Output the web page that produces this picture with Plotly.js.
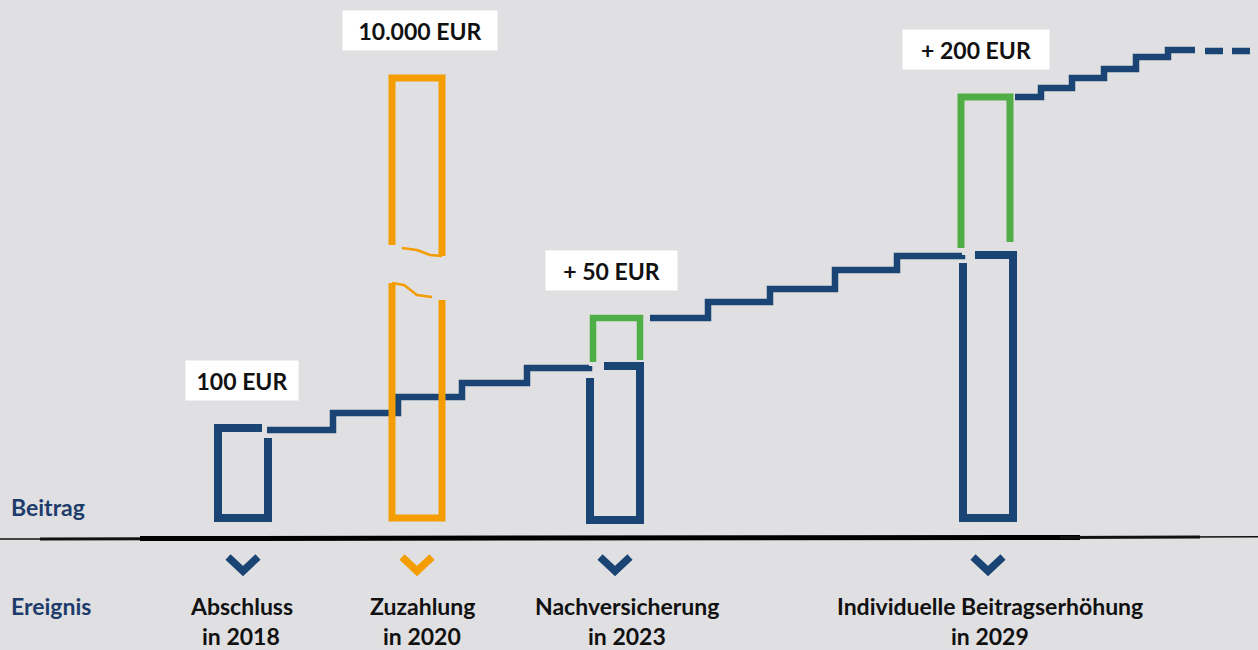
<!DOCTYPE html>
<html><head><meta charset="utf-8">
<script src="https://cdn.plot.ly/plotly-3.0.1.min.js"></script>
<style>html,body{margin:0;padding:0;background:#e0e0e2}#chart{width:1258px;height:650px}</style>
</head><body><div id="chart"></div>
<script>
// ---------- data ----------
const events = ['Abschluss', 'Zuzahlung', 'Nachversicherung', 'Individuelle Beitragserhöhung'];
const years = ['in 2018', 'in 2020', 'in 2023', 'in 2029'];
const eventX = [243, 417, 615, 988];          // schematic time position of each event
const barTop = [90, 440, 152, 263];            // contribution level at the event (blue / orange)
const boostTop = [null, null, 200, 421];       // level after the increase (green)
const amountLabels = ['100 EUR', '10.000 EUR', '+ 50 EUR', '+ 200 EUR'];
const zuzahlungBreak = [221, 262];             // axis break of the tall single payment bar

// contribution staircase between events (x position, level)
const stairs1X = [267, 333, 398, 462, 527, 589];
const stairs1Y = [88, 105, 121, 135, 150, 152];
const stairs2X = [650, 708, 770, 835, 897, 962];
const stairs2Y = [200, 216, 229, 248, 262, 263];
const stairs3X = [1015, 1041, 1072, 1104, 1136, 1168, 1195];
const stairs3Y = [421, 430, 440, 449, 461, 468, 468];
const dashX = [1205, 1223, null, 1232, 1250];
const dashY = [467, 467, null, 467, 467];

// ---------- style ----------
const NAVY = '#1a4473', ORANGE = '#f49d00', GREEN = '#50ae46', BG = '#e0e0e2';
const eventColor = [NAVY, ORANGE, NAVY, NAVY];
const HW = 25;                  // half bar width (px = data units)
const labelW = [110, 152, 129, 144];
const labelShift = [-1, 3, -4, -12];
const eventShift = [-2, 5, 12, 2];
const FONT = 'Lato, "Open Sans", sans-serif';

const traces = [];
function line(x, y, color, width, shape) {
  traces.push({type: 'scatter', mode: 'lines', x: x, y: y, hoverinfo: 'skip',
    line: {color: color, width: width, shape: shape || 'linear'}});
}

// baseline (tapered hand drawn stroke)
line([0, 60], [-21, -21], '#111', 1.5);
line([40, 160], [-21, -20.8], '#111', 3);
line([140, 1080], [-20.5, -19.5], '#000', 5);
line([1060, 1200], [-19.5, -19], '#111', 3);
line([1180, 1258], [-19, -18.8], '#111', 1.5);

// staircases
line(stairs1X, stairs1Y, NAVY, 6.5, 'hv');
line(stairs2X, stairs2Y, NAVY, 6.5, 'hv');
line(stairs3X, stairs3Y, NAVY, 6.5, 'hv');
line(dashX, dashY, NAVY, 6.5);

// bar 1: Abschluss
(function () {
  const L = eventX[0] - HW, R = eventX[0] + HW, T = barTop[0];
  line([R, R, L, L, R - 6], [T - 10, 0, 0, T, T], NAVY, 8);
})();

// bar 2: Zuzahlung (with break)
(function () {
  const L = eventX[1] - HW, R = eventX[1] + HW, T = barTop[1];
  const lo = zuzahlungBreak[0], hi = zuzahlungBreak[1];
  line([L, L, R, R], [hi + 11, T, T, hi], ORANGE, 7);
  line([R, R - 12, R - 25, L + 10], [hi, hi + 1, hi + 6, hi + 8], ORANGE, 2.5);
  line([L, L, R, R], [lo + 14, 0, 0, lo - 3], ORANGE, 7);
  line([L, L + 12, L + 25, R - 10], [lo + 14, lo + 12, lo + 2, lo], ORANGE, 2.5);
})();

// bar 3: Nachversicherung
(function () {
  const L = eventX[2] - HW, R = eventX[2] + HW, T = barTop[2], G = boostTop[2];
  line([L, L, R, R, L + 14], [T - 12, -2, -2, T, T], NAVY, 8);
  line([L + 3, L + 3, R, R], [T + 4, G, G, T + 6], GREEN, 6.5);
})();

// bar 4: Individuelle Beitragserhöhung
(function () {
  const L = eventX[3] - HW, R = eventX[3] + HW, T = barTop[3], G = boostTop[3];
  line([L, L, R, R, L + 12], [T - 8, 0, 0, T, T], NAVY, 8);
  line([L - 2, L - 2, R - 3, R - 3], [T + 7, G, G, T + 13], GREEN, 7);
})();

// chevrons
eventX.forEach((cx, i) => line([cx - 15, cx, cx + 15], [-39, -53, -39], eventColor[i], 7.5));

// ---------- annotations ----------
const ann = [];
ann.push({x: 9, y: 11, xanchor: 'left', yanchor: 'middle', text: '<b>Beitrag</b>', showarrow: false,
  font: {family: FONT, size: 23, color: '#1d3c6c'}});
ann.push({x: 9, y: -88, xanchor: 'left', yanchor: 'middle', text: '<b>Ereignis</b>', showarrow: false,
  font: {family: FONT, size: 23, color: '#1d3c6c'}});
events.forEach((e, i) => {
  ann.push({x: eventX[i], xshift: eventShift[i], y: -88, yanchor: 'middle', text: '<b>' + e + '</b>', showarrow: false,
    font: {family: FONT, size: 23, color: '#111'}});
  ann.push({x: eventX[i], xshift: eventShift[i], y: -118, yanchor: 'middle', text: '<b>' + years[i] + '</b>', showarrow: false,
    font: {family: FONT, size: 23, color: '#111'}});
});
amountLabels.forEach((t, i) => {
  const top = boostTop[i] !== null ? boostTop[i] : barTop[i];
  ann.push({x: eventX[i], xshift: labelShift[i], y: top, yshift: 48, yanchor: 'middle', text: '<b>' + t + '</b>',
    showarrow: false, bgcolor: '#ffffff', width: labelW[i], height: 37, align: 'center', valign: 'middle',
    font: {family: FONT, size: 23, color: '#111'}});
});

const layout = {
  width: 1258, height: 650,
  margin: {l: 0, r: 0, t: 0, b: 0},
  paper_bgcolor: BG, plot_bgcolor: BG,
  showlegend: false,
  xaxis: {range: [0, 1258], visible: false, fixedrange: true},
  yaxis: {range: [-132, 518], visible: false, fixedrange: true},
  annotations: ann
};
Plotly.newPlot('chart', traces, layout, {displayModeBar: false, staticPlot: true});
</script>
</body></html>
